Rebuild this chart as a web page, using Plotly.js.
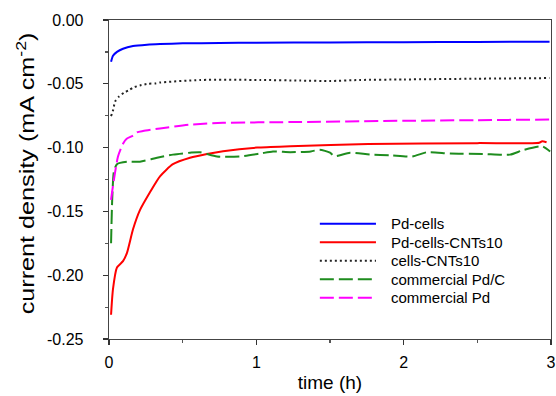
<!DOCTYPE html>
<html>
<head>
<meta charset="utf-8">
<script src="https://cdn.plot.ly/plotly-3.0.1.min.js"></script>
<style>html,body{margin:0;padding:0;background:#fff;}#chart{width:556px;height:396px;}</style>
</head>
<body>
<div id="chart"></div>
<script>
// ---- data (time in h, current density in mA cm^-2) ----
const seriesNames = ["Pd-cells", "Pd-cells-CNTs10", "cells-CNTs10", "commercial Pd/C", "commercial Pd"];
const seriesColors = ["#0000ff", "#ff0000", "#222222", "#1e8c1e", "#ff00ff"];
const seriesDash = ["solid", "solid", "2px,3px", "14px,5px", "14px,5px"];

const tPdCells = [0.014, 0.027, 0.054, 0.095, 0.163, 0.258, 0.346, 0.5, 0.75, 1.0, 1.5, 2.0, 2.5, 2.99];
const yPdCells = [-0.0327, -0.028, -0.025, -0.0225, -0.0204, -0.0193, -0.0188, -0.0183, -0.0180, -0.0178, -0.0176, -0.0174, -0.0172, -0.0170];

const tPdCellsCNT = [0.014, 0.027, 0.054, 0.095, 0.122, 0.163, 0.21, 0.278, 0.346, 0.434, 0.55, 0.665, 0.774, 1.005, 1.23, 1.76, 2.5, 2.92, 2.94, 2.97];
const yPdCellsCNT = [-0.231, -0.211, -0.194, -0.189, -0.1825, -0.164, -0.149, -0.135, -0.1225, -0.113, -0.108, -0.105, -0.1028, -0.100, -0.099, -0.0972, -0.0965, -0.0962, -0.0950, -0.0958];

const tCellsCNT = [0.014, 0.027, 0.041, 0.068, 0.102, 0.136, 0.163, 0.21, 0.265, 0.312, 0.346, 0.62, 1.03, 1.30, 1.5, 1.7, 2.0, 2.5, 2.99];
const yCellsCNT = [-0.0753, -0.071, -0.064, -0.060, -0.057, -0.055, -0.053, -0.0513, -0.050, -0.0497, -0.049, -0.047, -0.047, -0.0475, -0.0478, -0.047, -0.0466, -0.046, -0.0455];

const tCommPdC = [0.014, 0.022, 0.034, 0.054, 0.075, 0.122, 0.21, 0.326, 0.434, 0.55, 0.618, 0.733, 0.889, 1.025, 1.113, 1.23, 1.37, 1.43, 1.5, 1.53, 1.636, 1.772, 1.908, 2.057, 2.159, 2.315, 2.539, 2.722, 2.81, 2.94, 2.994];
const yCommPdC = [-0.175, -0.140, -0.118, -0.113, -0.112, -0.111, -0.111, -0.108, -0.1055, -0.104, -0.1036, -0.107, -0.107, -0.1047, -0.103, -0.1036, -0.103, -0.1016, -0.104, -0.1067, -0.104, -0.1055, -0.106, -0.107, -0.1036, -0.1047, -0.105, -0.1055, -0.102, -0.099, -0.103];

const tCommPd = [0.014, 0.027, 0.061, 0.095, 0.12, 0.163, 0.19, 0.231, 0.346, 0.55, 0.774, 1.23, 2.0, 2.5, 2.99];
const yCommPd = [-0.141, -0.130, -0.107, -0.097, -0.093, -0.0906, -0.088, -0.087, -0.085, -0.082, -0.0806, -0.080, -0.0790, -0.0785, -0.0780];

const yTickVals = [0, -0.05, -0.10, -0.15, -0.20, -0.25];
const yTickText = ["0.00", "-0.05", "-0.10", "-0.15", "-0.20", "-0.25"];
const xTickVals = [0, 1, 2, 3];
const xTickText = ["0", "1", "2", "3"];

const FONT = "Liberation Sans, Arial, sans-serif";

const xs = [tPdCells, tPdCellsCNT, tCellsCNT, tCommPdC, tCommPd];
const ys = [yPdCells, yPdCellsCNT, yCellsCNT, yCommPdC, yCommPd];

const data = seriesNames.map((name, i) => ({
  x: xs[i], y: ys[i], name: name, type: "scatter", mode: "lines", showlegend: false,
  line: {color: seriesColors[i], width: 2, dash: seriesDash[i], shape: "spline", smoothing: 0.6}
}));

// legend drawn in paper coordinates (sample line + label per series)
const legX0 = 0.477, legX1 = 0.604, legTextX = 0.633, legTopY = 0.361, legStep = 0.058;
const shapes = [];
const annotations = [];
seriesNames.forEach((name, i) => {
  const yy = legTopY - i * legStep;
  shapes.push({type: "line", xref: "paper", yref: "paper", x0: legX0, x1: legX1, y0: yy, y1: yy,
    line: {color: seriesColors[i], width: 2, dash: seriesDash[i]}});
  annotations.push({xref: "paper", yref: "paper", x: legTextX, y: yy, xanchor: "left", yanchor: "middle",
    text: name, showarrow: false, font: {family: FONT, size: 15, color: "#000"}});
});

const layout = {
  width: 556, height: 396,
  margin: {l: 109, r: 5, t: 20, b: 57},
  paper_bgcolor: "#fff", plot_bgcolor: "#fff",
  font: {family: FONT, color: "#000", size: 16},
  showlegend: false,
  shapes: shapes,
  annotations: annotations,
  xaxis: {
    range: [0, 3], tickmode: "array", tickvals: xTickVals, ticktext: xTickText,
    ticks: "outside", ticklen: 5, tickwidth: 1.2, tickcolor: "#333",
    minor: {dtick: 0.5, tick0: 0, ticks: "outside", ticklen: 3, tickcolor: "#555", showgrid: false},
    showline: true, linecolor: "#444", linewidth: 1.3, mirror: true,
    showgrid: false, zeroline: false, ticklabelstandoff: 3,
    tickfont: {family: FONT, size: 16},
    title: {text: "time (h)", font: {family: FONT, size: 19}, standoff: 6}
  },
  yaxis: {
    range: [-0.25, 0], tickmode: "array", tickvals: yTickVals, ticktext: yTickText,
    ticks: "outside", ticklen: 5, tickwidth: 1.2, tickcolor: "#333",
    minor: {dtick: 0.025, tick0: 0, ticks: "outside", ticklen: 3, tickcolor: "#555", showgrid: false},
    showline: true, linecolor: "#444", linewidth: 1.3, mirror: true,
    showgrid: false, zeroline: false, ticklabelstandoff: 16,
    tickfont: {family: FONT, size: 16},
    title: {text: "current density (mA cm<sup>-2</sup>)", font: {family: FONT, size: 21}, standoff: 6}
  }
};

Plotly.newPlot("chart", data, layout, {displayModeBar: false, staticPlot: true}).then(gd => {
  // the reference's y title runs along nearly the full axis height
  const t = gd.querySelector(".ytitle");
  if (t) {
    const cx = parseFloat(t.getAttribute("x")), cy = parseFloat(t.getAttribute("y"));
    const rot = t.getAttribute("transform") || "";
    t.setAttribute("transform", `translate(${cx},${cy - 6}) scale(1,1.2) translate(${-cx},${-cy}) ${rot}`);
  }
});
</script>
</body>
</html>
